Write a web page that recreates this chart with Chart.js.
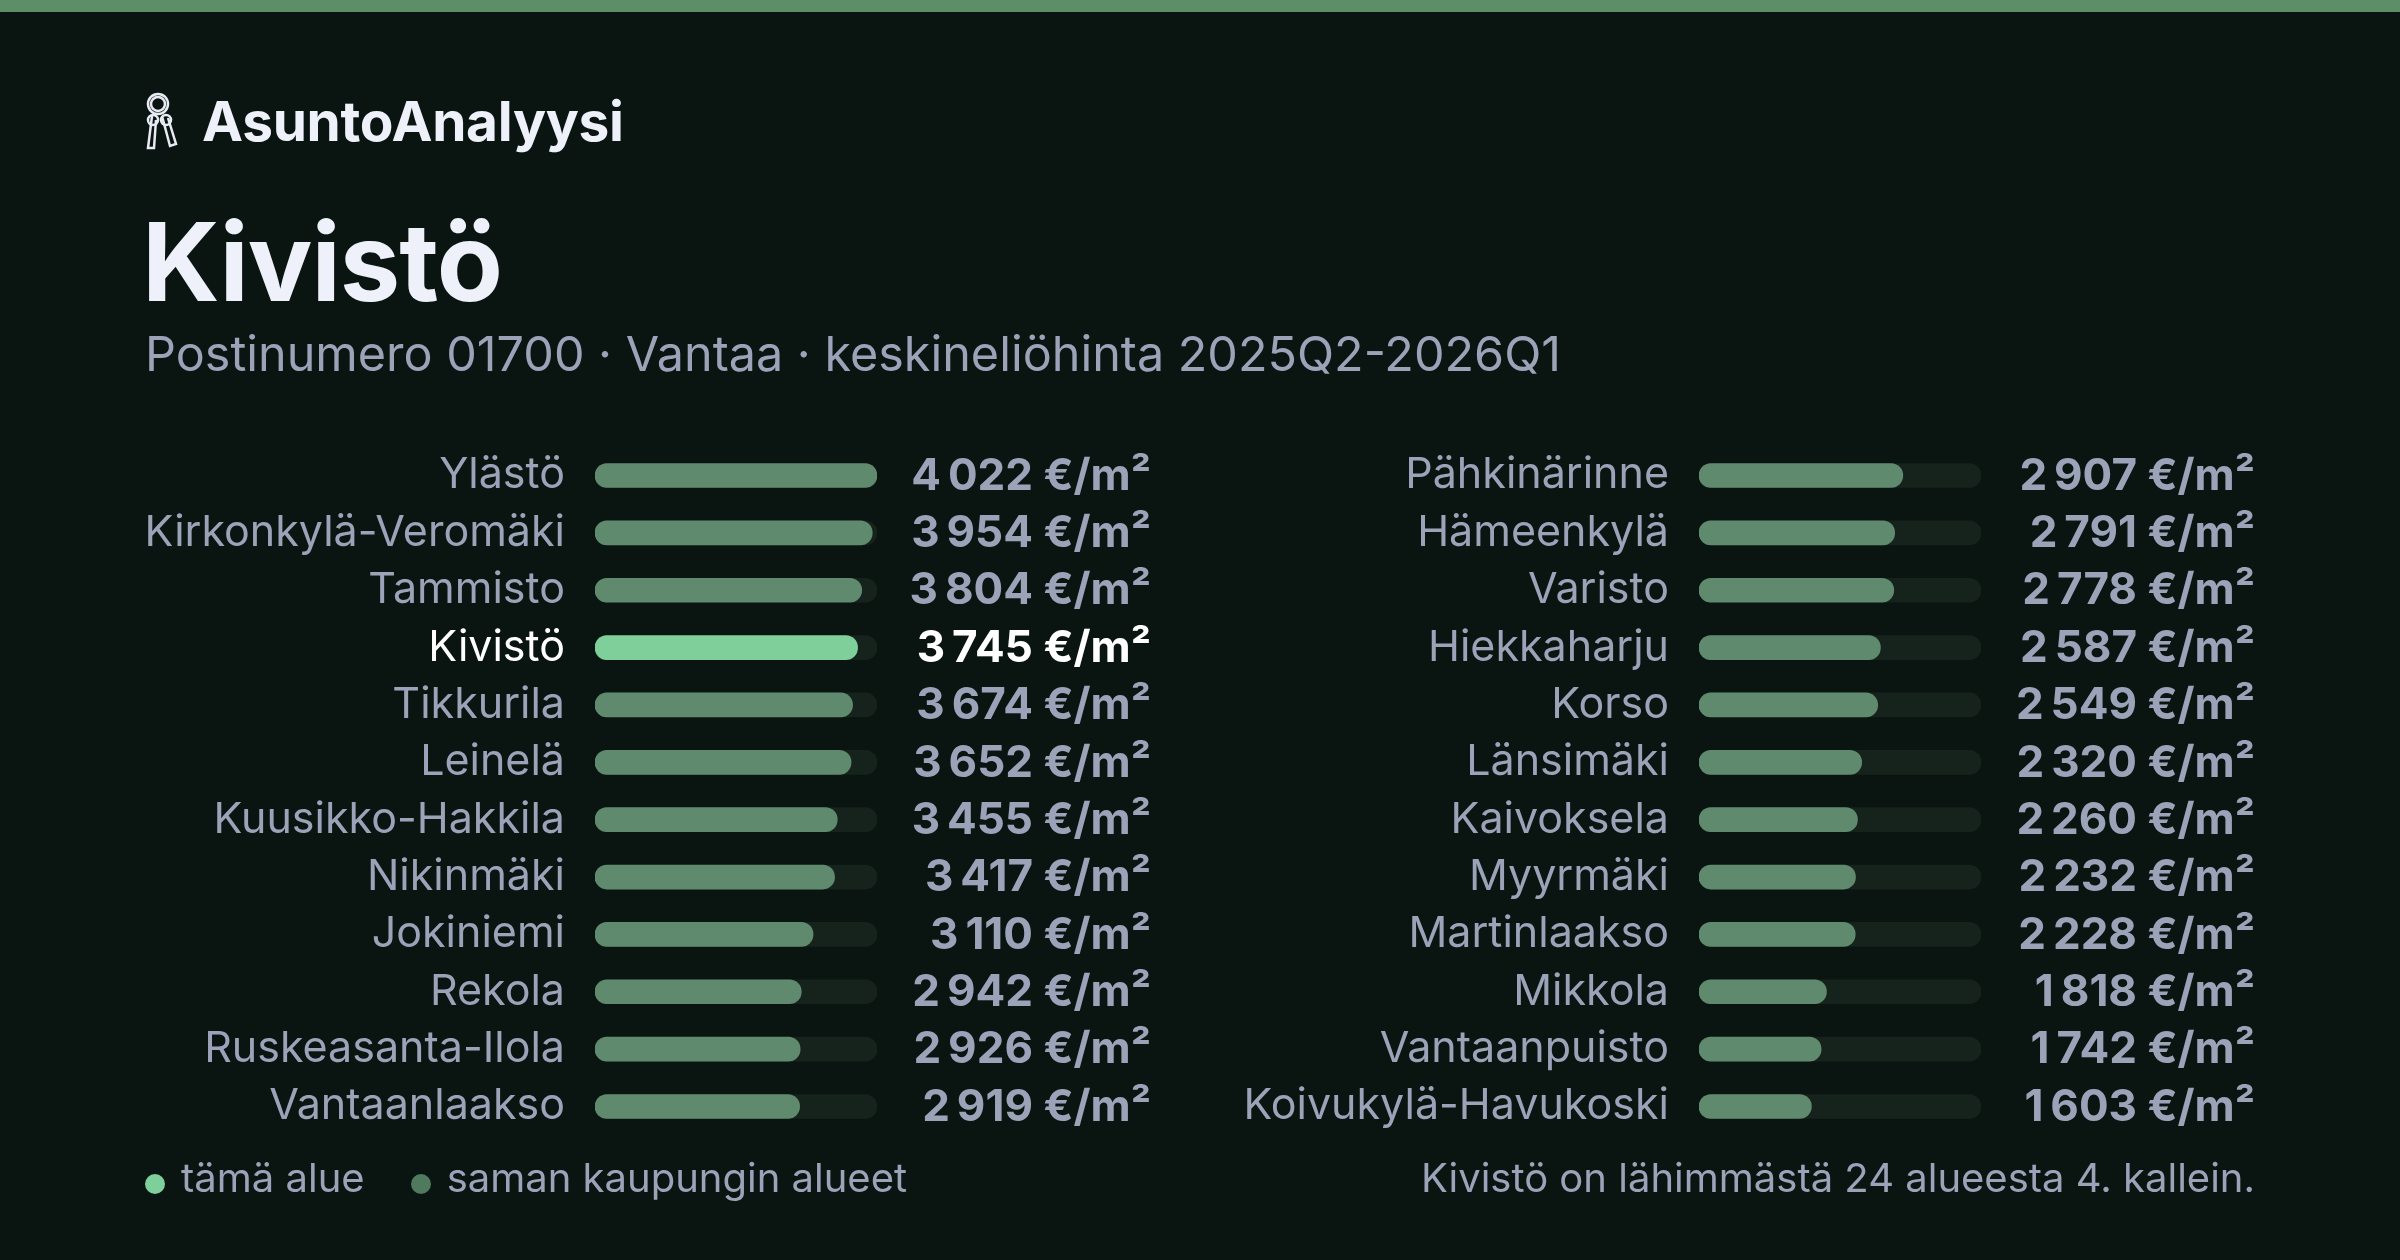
<!DOCTYPE html>
<html><head><meta charset="utf-8">
<script src="https://cdn.jsdelivr.net/npm/chart.js@4"></script>
<style>
html,body{margin:0;padding:0;width:2400px;height:1260px;background:#0a1512;overflow:hidden;font-family:Inter,"Noto Sans",sans-serif;}
#band{position:absolute;left:0;top:0;width:2400px;height:12px;background:#5d8e67;}
.t{position:absolute;white-space:nowrap;}
#brand{left:202px;top:88px;font-size:55px;font-weight:700;color:#eef0fa;letter-spacing:-0.3px;}
#title{left:142px;top:196px;font-size:108px;font-weight:700;color:#eef0fa;letter-spacing:-1px;}
#sub{left:145px;top:324px;font-size:48.5px;color:#9aa3b8;}
canvas{position:absolute;}
#lg{left:145px;top:1153px;font-size:40px;color:#9aa3b8;}
#lg span.d{display:inline-block;width:20px;height:20px;border-radius:50%;margin-right:16px;vertical-align:-2px}
#rk{right:145px;top:1153px;font-size:40px;color:#9aa3b8;}
</style></head><body>
<div id="band"></div>
<svg class="t" style="left:140px;top:90px" width="40" height="62" viewBox="0 0 40 62" fill="none" stroke="#e8eaf4" stroke-width="2.5">
<circle cx="18" cy="14" r="10"/><circle cx="18" cy="14" r="7"/>
<path d="M12 26 L8 58 L14 58 L16 30"/><path d="M22 26 L30 56 L36 54 L28 28"/>
<circle cx="13" cy="30" r="5"/><circle cx="26" cy="30" r="5"/>
</svg>
<div class="t" id="brand">AsuntoAnalyysi</div>
<div class="t" id="title">Kivistö</div>
<div class="t" id="sub">Postinumero 01700 · Vantaa · keskineliöhinta 2025Q2-2026Q1</div>
<canvas id="c1" width="1030" height="784" style="left:140px;top:399px;width:1030px;height:784px"></canvas>
<canvas id="c2" width="1140" height="784" style="left:1140px;top:399px;width:1140px;height:784px"></canvas>
<div class="t" id="lg"><span class="d" style="background:#7fcf9a"></span>tämä alue<span class="d" style="background:#4f7a5e;margin-left:46px"></span>saman kaupungin alueet</div>
<div class="t" id="rk">Kivistö on lähimmästä 24 alueesta 4. kallein.</div>
<script>
const leftAreas=["Ylästö","Kirkonkylä-Veromäki","Tammisto","Kivistö","Tikkurila","Leinelä","Kuusikko-Hakkila","Nikinmäki","Jokiniemi","Rekola","Ruskeasanta-Ilola","Vantaanlaakso"];
const leftPrices=[4022,3954,3804,3745,3674,3652,3455,3417,3110,2942,2926,2919];
const rightAreas=["Pähkinärinne","Hämeenkylä","Varisto","Hiekkaharju","Korso","Länsimäki","Kaivoksela","Myyrmäki","Martinlaakso","Mikkola","Vantaanpuisto","Koivukylä-Havukoski"];
const rightPrices=[2907,2791,2778,2587,2549,2320,2260,2232,2228,1818,1742,1603];
const currentArea="Kivistö";
const maxPrice=4022;
const fmt=v=>String(v).replace(/\B(?=(\d{3})+(?!\d))/g,"\u202f")+" €/m²";
const FONT='Inter, "Noto Sans", sans-serif';
function make(id,labels,vals,axisW,padR,valOff){
  const valuePlugin={id:'vals',afterDatasetsDraw(ch){
    const ctx=ch.ctx,meta=ch.getDatasetMeta(0);
    ctx.save();ctx.font='700 44px '+FONT;ctx.textAlign='right';ctx.textBaseline='middle';
    meta.data.forEach((b,i)=>{ctx.fillStyle=labels[i]===currentArea?'#ffffff':'#9aa3b8';
      ctx.fillText(fmt(vals[i]),ch.chartArea.right+valOff,b.y+1);});
    ctx.restore();}};
  new Chart(document.getElementById(id),{type:'bar',
    data:{labels:labels,datasets:[
      {data:vals,backgroundColor:labels.map(l=>l===currentArea?'#7fcf9a':'#5f8a6e'),barThickness:24,borderRadius:12,borderSkipped:false,grouped:false},
      {data:labels.map(()=>maxPrice),backgroundColor:'#16231d',barThickness:24,borderRadius:12,borderSkipped:false,grouped:false}]},
    options:{indexAxis:'y',responsive:false,animation:false,devicePixelRatio:1,
      layout:{padding:{top:7,bottom:5,right:padR,left:0}},
      plugins:{legend:{display:false},tooltip:{enabled:false}},
      scales:{x:{display:false,min:0,max:maxPrice},
        y:{grid:{display:false},border:{display:false},afterFit(s){s.width=axisW;},
          ticks:{padding:22,autoSkip:false,font:{family:FONT,size:43},color:c=>labels[c.index]===currentArea?'#ffffff':'#9aa3b8'}}}},
    plugins:[valuePlugin]});
}
make('c1',leftAreas,leftPrices,455,1170-877,274);
make('c2',rightAreas,rightPrices,559,2280-1981,274);
</script>
</body></html>
